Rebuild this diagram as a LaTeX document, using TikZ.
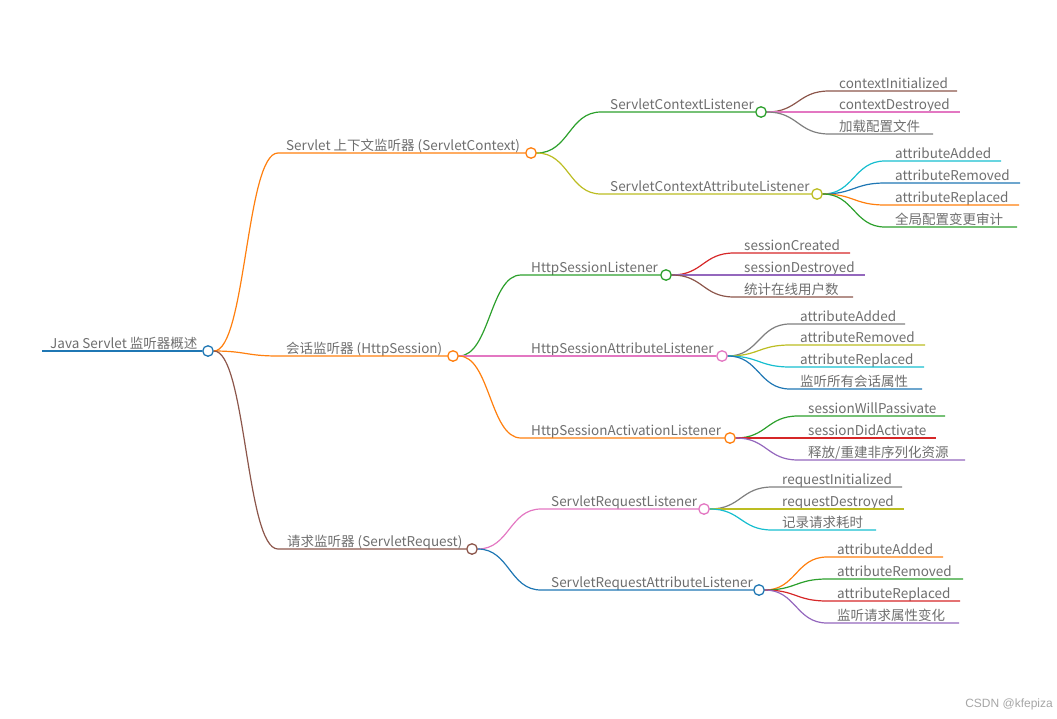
\documentclass[tikz,border=0pt]{standalone}
\usepackage{fontspec}
\setmainfont{Noto Sans CJK SC}
\newfontfamily\wmfont{Liberation Sans}
\usetikzlibrary{calc}
\definecolor{cblue}{HTML}{1F77B4}
\definecolor{corange}{HTML}{FF7F0E}
\definecolor{cgreen}{HTML}{2CA02C}
\definecolor{cred}{HTML}{D62728}
\definecolor{cpurple}{HTML}{9467BD}
\definecolor{cbrown}{HTML}{8C564B}
\definecolor{cpink}{HTML}{E377C2}
\definecolor{cgray}{HTML}{7F7F7F}
\definecolor{colive}{HTML}{BCBD22}
\definecolor{ccyan}{HTML}{17BECF}
\definecolor{txt}{HTML}{6E6E6E}
\tikzset{
  lbl/.style={anchor=base west, inner sep=0pt, text=txt, font=\fontsize{13.5}{14}\selectfont},
  dot/.style={circle, draw=#1, fill=white, minimum size=10.5pt, inner sep=0pt, line width=1.3pt},
  conn/.style={draw=#1, line width=1.2pt},
  bez/.style={to path={let \p1=(\tikztostart), \p2=(\tikztotarget) in .. controls ({(\x1+\x2)/2},\y1) and ({(\x1+\x2)/2},\y2) .. (\tikztotarget) \tikztonodes}},
  wm/.style={anchor=base east, inner sep=0pt, text=black!35, font=\wmfont\fontsize{12}{13}\selectfont}
}
\begin{document}
\begin{tikzpicture}[x=1pt,y=-1pt]
\useasboundingbox (0,0) rectangle (1057,718);
% root
\coordinate (r0) at (42,351);
\node[dot=cblue] (root) at (208,351) {};
\node[lbl] (rootl) at (50,348.5) {Java Servlet 监听器概述};
\draw[conn=cblue] (r0) -- (root.west);
% level 1
\coordinate (Cs) at (278,153);
\coordinate (Ss) at (278,356);
\coordinate (Rs) at (278,549);
\node[dot=corange] (C) at (531,153) {};
\node[dot=corange] (S) at (453,356) {};
\node[dot=cbrown] (R) at (472,549) {};
\node[lbl] (Cl) at (286,150.5) {Servlet 上下文监听器 (ServletContext)};
\node[lbl] (Sl) at (286,353.5) {会话监听器 (HttpSession)};
\node[lbl] (Rl) at (287,546.5) {请求监听器 (ServletRequest)};
\draw[conn=corange] (root.east) to[bez] (Cs) -- (C.west);
\draw[conn=corange] (root.east) to[bez] (Ss) -- (S.west);
\draw[conn=cbrown] (root.east) to[bez] (Rs) -- (R.west);
% level 2 context
\coordinate (CLs) at (601,112);
\coordinate (CALs) at (601,194);
\node[dot=cgreen] (CL) at (761,112) {};
\node[dot=colive] (CAL) at (817,194) {};
\node[lbl] (CLl) at (610,109.5) {ServletContextListener};
\node[lbl] (CALl) at (610,191.5) {ServletContextAttributeListener};
\draw[conn=cgreen] (C.east) to[bez] (CLs) -- (CL.west);
\draw[conn=colive] (C.east) to[bez] (CALs) -- (CAL.west);
% level 2 session
\coordinate (SLs) at (521,275);
\coordinate (SALs) at (521,356);
\coordinate (SAcLs) at (521,438);
\node[dot=cgreen] (SL) at (666,275) {};
\node[dot=cpink] (SAL) at (722,356) {};
\node[dot=corange] (SAcL) at (730,438) {};
\node[lbl] (SLl) at (531,272.5) {HttpSessionListener};
\node[lbl] (SALl) at (531,353.5) {HttpSessionAttributeListener};
\node[lbl] (SAcLl) at (531,435.5) {HttpSessionActivationListener};
\draw[conn=cgreen] (S.east) to[bez] (SLs) -- (SL.west);
\draw[conn=cpink] (S.east) to[bez] (SALs) -- (SAL.west);
\draw[conn=corange] (S.east) to[bez] (SAcLs) -- (SAcL.west);
% level 2 request
\coordinate (RLs) at (541,509);
\coordinate (RALs) at (541,590);
\node[dot=cpink] (RL) at (704,509) {};
\node[dot=cblue] (RAL) at (759,590) {};
\node[lbl] (RLl) at (551,506.5) {ServletRequestListener};
\node[lbl] (RALl) at (551,587.5) {ServletRequestAttributeListener};
\draw[conn=cpink] (R.east) to[bez] (RLs) -- (RL.west);
\draw[conn=cblue] (R.east) to[bez] (RALs) -- (RAL.west);
% level 3 leaves
\foreach \pa/\sx/\tx/\yy/\ex/\cc/\tt/\nm in {
  CL/829/839/91/957/cbrown/{contextInitialized}/a1,
  CL/829/839/112/960/cpink/{contextDestroyed}/a2,
  CL/829/839/134/933/cgray/{加载配置文件}/a3,
  CAL/885/895/161/1001/ccyan/{attributeAdded}/b1,
  CAL/885/895/183/1020/cblue/{attributeRemoved}/b2,
  CAL/885/895/205/1019/corange/{attributeReplaced}/b3,
  CAL/885/895/227/1017/cgreen/{全局配置变更审计}/b4,
  SL/734/744/253/850/cred/{sessionCreated}/c1,
  SL/734/744/275/865/cpurple/{sessionDestroyed}/c2,
  SL/734/744/297/853/cbrown/{统计在线用户数}/c3,
  SAL/790/800/324/905/cgray/{attributeAdded}/d1,
  SAL/790/800/345/925/colive/{attributeRemoved}/d2,
  SAL/790/800/367/924/ccyan/{attributeReplaced}/d3,
  SAL/790/800/389/922/cblue/{监听所有会话属性}/d4,
  SAcL/798/808/416/945/cgreen/{sessionWillPassivate}/e1,
  SAcL/798/808/438/936/cred/{sessionDidActivate}/e2,
  SAcL/798/808/460/965/cpurple/{释放/重建非序列化资源}/e3,
  RL/772/782/487/902/cgray/{requestInitialized}/f1,
  RL/772/782/509/904/colive/{requestDestroyed}/f2,
  RL/772/782/530/876/ccyan/{记录请求耗时}/f3,
  RAL/827/837/557/943/corange/{attributeAdded}/g1,
  RAL/827/837/579/963/cgreen/{attributeRemoved}/g2,
  RAL/827/837/601/960/cred/{attributeReplaced}/g3,
  RAL/827/837/623/959/cpurple/{监听请求属性变化}/g4}{
  \coordinate (\nm s) at (\sx,\yy);
  \coordinate (\nm e) at (\ex,\yy);
  \node[lbl] (\nm) at (\tx,\yy-2.5) {\tt};
  \draw[conn=\cc] (\pa.east) to[bez] (\nm s) -- (\nm e);
}
\node[wm] (wm) at (1053,707) {CSDN @kfepiza};
\end{tikzpicture}
\end{document}
